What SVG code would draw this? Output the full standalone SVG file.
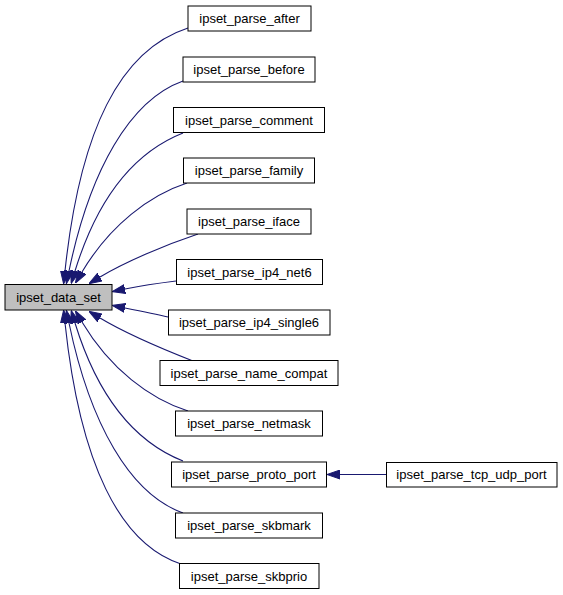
<svg xmlns="http://www.w3.org/2000/svg" width="563" height="595" viewBox="0 0 563 595">
<style>
.box{fill:#ffffff;stroke:#000000;stroke-width:1}
.hl{fill:#bfbfbf}
.lbl{font-family:"Liberation Sans",Arial,sans-serif;font-size:13px;fill:#000000;text-anchor:middle}
.edge{fill:none;stroke:#191970;stroke-width:1.1;marker-end:url(#arr)}
</style>
<defs>
<marker id="arr" viewBox="0 -5 13 10" refX="0" refY="0" markerUnits="userSpaceOnUse" markerWidth="13" markerHeight="10" orient="auto">
<path d="M0,-4.5 L13,0 L0,4.5 z" fill="#191970" stroke="#191970" stroke-width="1"/>
</marker>
</defs>
<g id="edges">
<path class="edge" d="M188,28 C120,50 80,130 65,271"/>
<path class="edge" d="M183,81 C130,100 90,170 69,271"/>
<path class="edge" d="M183,133 C140,150 100,190 75,271"/>
<path class="edge" d="M187,183 C150,195 110,225 82,272"/>
<path class="edge" d="M198,234 C165,245 125,262 100,277"/>
<path class="edge" d="M176,281 C160,283 140,286 125,289"/>
<path class="edge" d="M168,317 C155,314 140,311 125,308"/>
<path class="edge" d="M193,361 C165,350 125,333 100,318"/>
<path class="edge" d="M188,411 C150,399 110,369 82,322"/>
<path class="edge" d="M183,461 C140,444 100,404 75,323"/>
<path class="edge" d="M183,513 C130,494 90,424 69,323"/>
<path class="edge" d="M181,564 C120,544 80,464 65,323"/>
<path class="edge" d="M386,474.5 L340,474.5"/>
</g>
<g id="ipset_data_set"><rect class="box hl" x="5" y="284.5" width="107" height="25.5"/><text class="lbl" x="58.5" y="302">ipset_data_set</text></g>
<g id="ipset_parse_after"><rect class="box" x="188" y="6" width="123" height="25"/><text class="lbl" x="249.5" y="23">ipset_parse_after</text></g>
<g id="ipset_parse_before"><rect class="box" x="183" y="57" width="132" height="25"/><text class="lbl" x="249" y="74">ipset_parse_before</text></g>
<g id="ipset_parse_comment"><rect class="box" x="173.5" y="107.5" width="151" height="25"/><text class="lbl" x="249" y="124.5">ipset_parse_comment</text></g>
<g id="ipset_parse_family"><rect class="box" x="183.5" y="158" width="131" height="25"/><text class="lbl" x="249" y="175">ipset_parse_family</text></g>
<g id="ipset_parse_iface"><rect class="box" x="187" y="209" width="124" height="25"/><text class="lbl" x="249" y="226">ipset_parse_iface</text></g>
<g id="ipset_parse_ip4_net6"><rect class="box" x="176.5" y="259.5" width="146" height="25"/><text class="lbl" x="249.5" y="276.5">ipset_parse_ip4_net6</text></g>
<g id="ipset_parse_ip4_single6"><rect class="box" x="168.5" y="310" width="161.5" height="25"/><text class="lbl" x="249" y="327">ipset_parse_ip4_single6</text></g>
<g id="ipset_parse_name_compat"><rect class="box" x="160" y="360.5" width="178" height="25"/><text class="lbl" x="249" y="377.5">ipset_parse_name_compat</text></g>
<g id="ipset_parse_netmask"><rect class="box" x="175.5" y="411" width="147" height="25"/><text class="lbl" x="249" y="428">ipset_parse_netmask</text></g>
<g id="ipset_parse_proto_port"><rect class="box" x="171.5" y="462" width="155" height="25"/><text class="lbl" x="249" y="479">ipset_parse_proto_port</text></g>
<g id="ipset_parse_skbmark"><rect class="box" x="175.5" y="513" width="147" height="25"/><text class="lbl" x="249" y="530">ipset_parse_skbmark</text></g>
<g id="ipset_parse_skbprio"><rect class="box" x="179.5" y="563.5" width="139.5" height="25"/><text class="lbl" x="249" y="580.5">ipset_parse_skbprio</text></g>
<g id="ipset_parse_tcp_udp_port"><rect class="box" x="386.5" y="462.5" width="170.5" height="24.5"/><text class="lbl" x="471.5" y="479">ipset_parse_tcp_udp_port</text></g>
</svg>
